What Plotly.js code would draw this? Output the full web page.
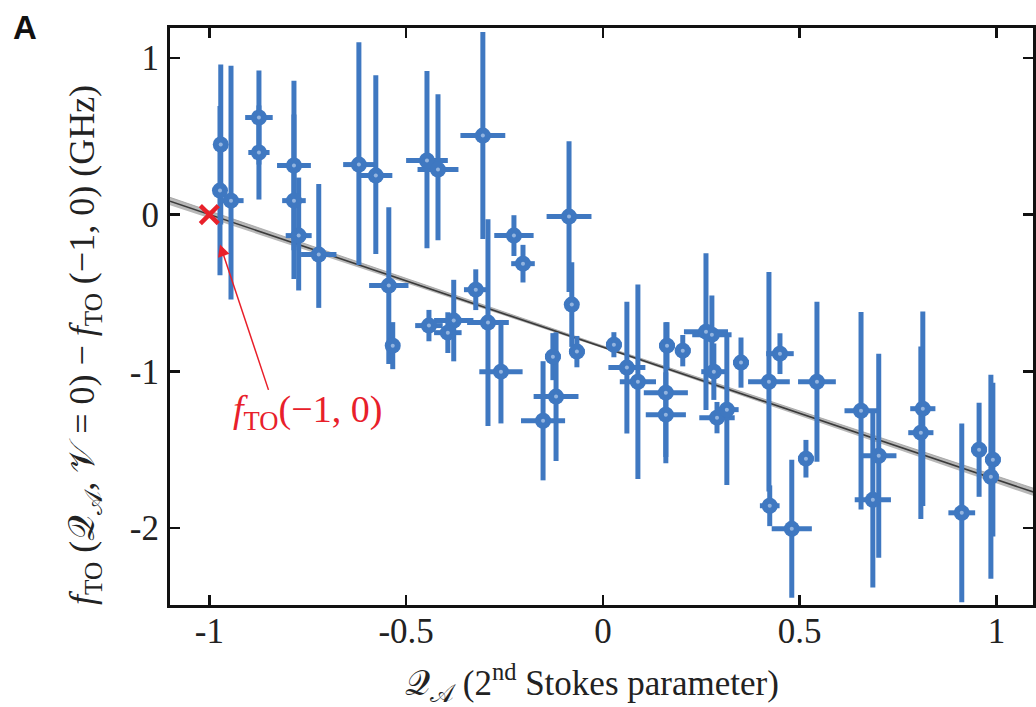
<!DOCTYPE html>
<html>
<head>
<meta charset="utf-8">
<script src="https://cdn.plot.ly/plotly-3.0.1.min.js"></script>
<style>html,body{margin:0;padding:0;background:#fff;}#chart{width:1036px;height:707px;}</style>
</head>
<body>
<div id="chart"></div>
<script>
// Measured points: Stokes parameter Q_A vs frequency shift (GHz)
const qA = [-0.971,-0.973,-0.945,-0.874,-0.874,-0.785,-0.785,-0.773,-0.722,-0.620,-0.577,-0.544,-0.534,-0.447,-0.419,-0.305,-0.323,-0.292,-0.259,-0.226,-0.203,-0.086,-0.079,-0.066,-0.127,-0.119,-0.152,-0.442,-0.379,-0.394,0.028,0.061,0.089,0.163,0.160,0.160,0.203,0.262,0.277,0.282,0.290,0.315,0.351,0.422,0.450,0.424,0.480,0.516,0.544,0.656,0.701,0.686,0.813,0.808,0.912,0.956,0.991,0.986];
const fShift = [0.447,0.153,0.089,0.619,0.396,0.313,0.089,-0.134,-0.255,0.319,0.249,-0.453,-0.836,0.345,0.287,0.504,-0.479,-0.689,-1.002,-0.134,-0.313,-0.013,-0.574,-0.874,-0.906,-1.161,-1.315,-0.708,-0.676,-0.753,-0.830,-0.976,-1.066,-0.836,-1.136,-1.276,-0.868,-0.747,-0.766,-1.002,-1.295,-1.244,-0.944,-1.066,-0.887,-1.857,-2.004,-1.557,-1.066,-1.251,-1.538,-1.819,-1.238,-1.391,-1.902,-1.500,-1.563,-1.672];
const qAErr = [0.012,0.012,0.032,0.035,0.027,0.043,0.030,0.033,0.045,0.040,0.042,0.050,0.015,0.053,0.052,0.057,0.030,0.053,0.055,0.050,0.030,0.057,0.015,0.020,0.020,0.057,0.056,0.035,0.050,0.035,0.020,0.047,0.046,0.020,0.056,0.051,0.020,0.056,0.050,0.032,0.045,0.030,0.020,0.053,0.035,0.025,0.051,0.020,0.048,0.042,0.045,0.046,0.032,0.032,0.034,0.020,0.020,0.020];
const fErrUp = [0.51,0.54,0.86,0.30,0.30,0.54,0.55,0.37,0.45,0.78,0.64,0.50,0.15,0.57,0.48,0.66,0.13,0.66,0.33,0.13,0.12,0.48,0.27,0.10,0.15,0.41,0.38,0.10,0.26,0.13,0.08,0.42,0.62,0.15,0.45,0.27,0.10,0.50,0.25,0.18,0.10,0.48,0.16,0.70,0.13,0.13,0.44,0.12,0.51,0.63,0.65,0.56,0.62,0.55,0.57,0.30,0.49,0.65];
const fErrDown = [0.51,0.54,0.63,0.30,0.30,0.54,0.50,0.35,0.34,0.64,0.50,0.50,0.15,0.56,0.45,0.66,0.13,0.66,0.33,0.13,0.12,0.48,0.27,0.10,0.15,0.41,0.38,0.10,0.26,0.13,0.08,0.42,0.62,0.15,0.45,0.27,0.10,0.50,0.25,0.18,0.10,0.48,0.16,0.70,0.13,0.13,0.44,0.12,0.51,0.63,0.65,0.56,0.62,0.55,0.57,0.30,0.49,0.65];

// Linear fit and its confidence band
const fitX = [-1.1, 0, 1.1];
const fitY = [0.085, -0.845, -1.775];
const fitHi = [0.110, -0.837, -1.750];
const fitLo = [0.060, -0.853, -1.800];

// Reference point f_TO(-1,0)
const refX = [-1];
const refY = [0];

const xTicks = [-1, -0.5, 0, 0.5, 1];
const xTickText = ['-1', '-0.5', '0', '0.5', '1'];
const yTicks = [1, 0, -1, -2];
const yTickText = ['1', '0', '-1', '-2'];

const blue = '#3f78c1';
const serif = "'Liberation Serif', 'DejaVu Serif', serif";

const traces = [
  {x: fitX, y: fitLo, mode: 'lines', line: {width: 0, color: 'rgba(0,0,0,0)'}, hoverinfo: 'skip', showlegend: false},
  {x: fitX, y: fitHi, mode: 'lines', fill: 'tonexty', fillcolor: '#b8b8b8', line: {width: 0.8, color: '#a0a0a0'}, hoverinfo: 'skip', showlegend: false},
  {x: fitX, y: fitY, mode: 'lines', line: {width: 1.6, color: '#3a3a3a'}, showlegend: false},
  {x: qA, y: fShift, mode: 'markers', type: 'scatter',
   marker: {color: blue, size: 16, symbol: 'circle'},
   error_x: {type: 'data', array: qAErr, color: blue, thickness: 5, width: 0},
   error_y: {type: 'data', symmetric: false, array: fErrUp, arrayminus: fErrDown, color: blue, thickness: 5, width: 0},
   showlegend: false},
  {x: qA, y: fShift, mode: 'markers', marker: {color: '#93b4df', size: 4}, hoverinfo: 'skip', showlegend: false},
  {x: refX, y: refY, mode: 'markers', marker: {symbol: 'x-thin', size: 18, line: {width: 4.5, color: '#e8202a'}, color: '#e8202a'}, showlegend: false}
];

const axisCommon = {
  showline: true, linewidth: 3, linecolor: '#111', mirror: 'ticks',
  ticks: 'inside', ticklen: 10, tickwidth: 2.5, tickcolor: '#111',
  showgrid: false, zeroline: false,
  tickfont: {family: serif, size: 35, color: '#222'}
};

const layout = {
  width: 1036, height: 707,
  margin: {l: 170, r: 3, t: 28, b: 102},
  paper_bgcolor: '#fff', plot_bgcolor: '#fff',
  font: {family: serif},
  xaxis: Object.assign({}, axisCommon, {
    range: [-1.1, 1.093], tickmode: 'array', tickvals: xTicks, ticktext: xTickText,
    ticklabelstandoff: -7
  }),
  yaxis: Object.assign({}, axisCommon, {
    range: [-2.49, 1.19], tickmode: 'array', tickvals: yTicks, ticktext: yTickText,
    ticklabelstandoff: 1
  }),
  annotations: [
    {x: -0.973, y: -0.19, xref: 'x', yref: 'y', text: '', showarrow: true,
     ax: 49, ay: 147, arrowhead: 2, arrowsize: 1.6, arrowwidth: 1.5, arrowcolor: '#e8202a'},
    {x: -0.75, y: -1.26, xref: 'x', yref: 'y', showarrow: false, xanchor: 'center', yanchor: 'middle',
     text: '<i>f</i><sub>TO</sub>(−1, 0)', font: {family: serif, size: 38, color: '#e8202a'}},
    {x: (25 - 170) / 863, y: 1 + (28 - 27) / 577, xref: 'paper', yref: 'paper', showarrow: false,
     xanchor: 'center', yanchor: 'middle',
     text: '<b>A</b>', font: {family: "'Liberation Sans', Arial, sans-serif", size: 33, color: '#111'}},
    {x: (592 - 170) / 863, y: (605 - 682) / 577, xref: 'paper', yref: 'paper', showarrow: false,
     xanchor: 'center', yanchor: 'middle',
     text: '𝒬<sub>𝒜</sub> (2<sup>nd</sup> Stokes parameter)', font: {family: serif, size: 35, color: '#222'}},
    {x: (84 - 170) / 863, y: (605 - 345) / 577, xref: 'paper', yref: 'paper', showarrow: false,
     xanchor: 'center', yanchor: 'middle', textangle: -90,
     text: '<i>f</i><sub>TO</sub> (𝒬<sub>𝒜</sub>, 𝒱 = 0) − <i>f</i><sub>TO</sub> (−1, 0) (GHz)', font: {family: serif, size: 36, color: '#222'}}
  ]
};

Plotly.newPlot('chart', traces, layout, {displayModeBar: false, staticPlot: true});
</script>
</body>
</html>
